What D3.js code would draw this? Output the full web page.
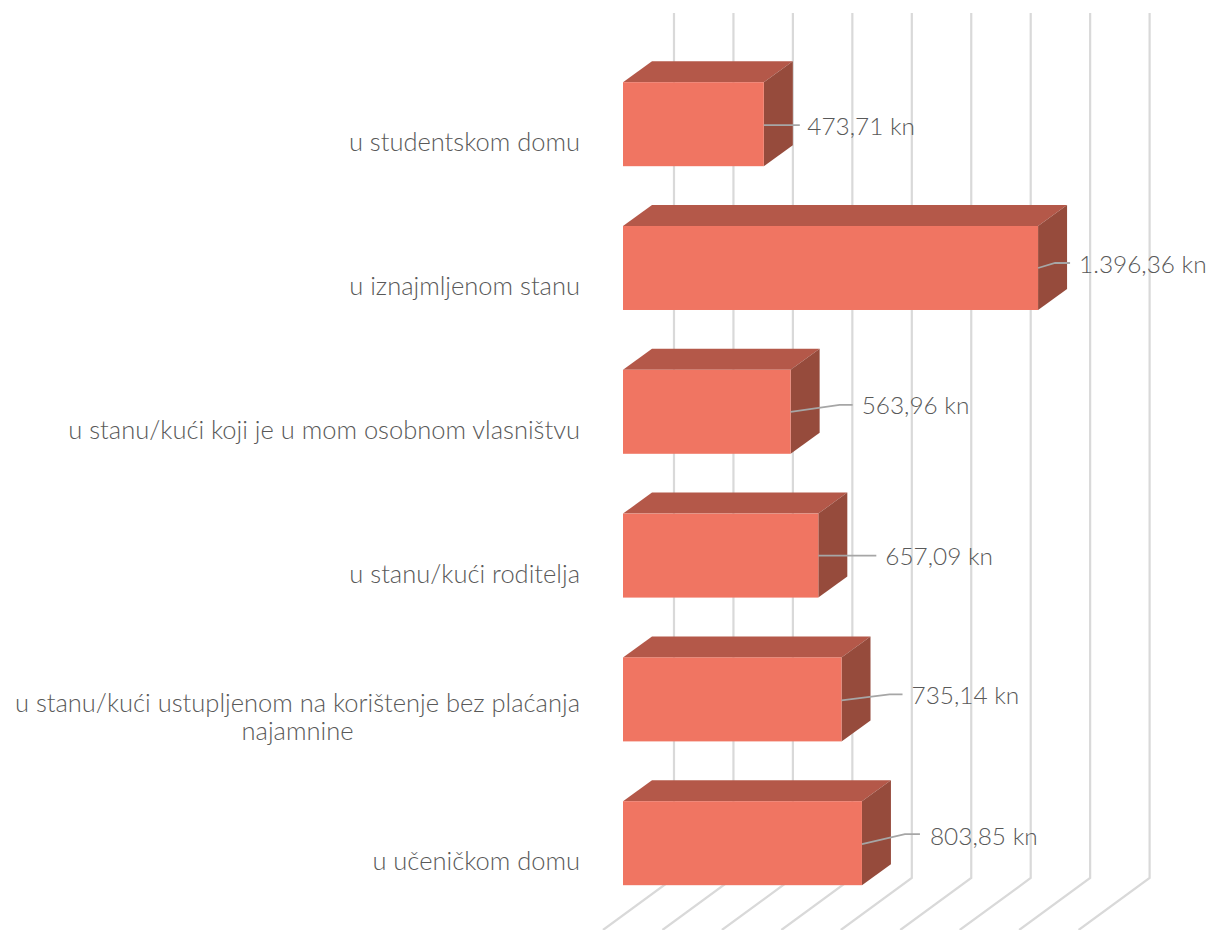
<!DOCTYPE html>
<html><head><meta charset="utf-8">
<script src="https://cdn.jsdelivr.net/npm/d3@7"></script>
<style>html,body{margin:0;background:#fff}svg{display:block}text{font-family:Lato,sans-serif;font-weight:300;fill:#595959}</style>
</head><body><svg id="c" width="1207" height="930"></svg>
<script>
const categories = ["u studentskom domu","u iznajmljenom stanu","u stanu/kući koji je u mom osobnom vlasništvu","u stanu/kući roditelja","u stanu/kući ustupljenom na korištenje bez plaćanja najamnine","u učeničkom domu"];
const values = [473.71,1396.36,563.96,657.09,735.14,803.85];
const valueLabels = ["473,71 kn","1.396,36 kn","563,96 kn","657,09 kn","735,14 kn","803,85 kn"];
const gridTicks = d3.range(0,1601,200);

// layout (not data)
const originX=623, gridX=674, gridTop=13, gridBottom=878;
const depthX=29, depthY=21, floorX=71, floorY=52;
const labelLayout = [ // leader elbow and label offset from the bar's right edge
 {y0:19,mx:24, my:19, ex:36, ey:19, lx:43.5, ly:20},
 {y0:18,mx:17, my:13, ex:32, ey:13, lx:41, ly:14},
 {y0:18,mx:49, my:11, ex:62, ey:11, lx:71, ly:12},
 {y0:18,mx:40, my:18, ex:58, ey:18, lx:67, ly:19},
 {y0:19,mx:48, my:13, ex:61, ey:13, lx:70, ly:14},
 {y0:19,mx:43, my:9, ex:58, ey:9, lx:68, ly:11}
];

const svg=d3.select("#c");
const x=d3.scaleLinear().domain([0,1600]).range([0,475.6]);
const y=d3.scaleBand().domain(categories).range([52.3,915.1]).paddingInner(.416).paddingOuter(.208);
const line=d3.line();

svg.append("g").selectAll("path").data(gridTicks).join("path")
 .attr("fill","none").attr("stroke","#D9D9D9").attr("stroke-width",2.2)
 .attr("d",t=>{const gx=gridX+x(t);return line([[gx,gridTop],[gx,gridBottom],[gx-floorX,gridBottom+floorY]]);});

const bars=svg.append("g").selectAll("g").data(categories.map((c,i)=>({c,v:values[i],l:valueLabels[i],o:labelLayout[i]}))).join("g");
const barTop=d=>y(d.c), bw=y.bandwidth(), right=d=>originX+x(d.v);
bars.append("path").attr("fill","#B45849")
 .attr("d",d=>line([[originX,barTop(d)],[right(d),barTop(d)],[right(d)+depthX,barTop(d)-depthY],[originX+depthX,barTop(d)-depthY]])+"Z");
bars.append("path").attr("fill","#964B3C")
 .attr("d",d=>line([[right(d),barTop(d)],[right(d)+depthX,barTop(d)-depthY],[right(d)+depthX,barTop(d)+bw-depthY],[right(d),barTop(d)+bw]])+"Z");
bars.append("rect").attr("fill","#F07562").attr("x",originX).attr("y",barTop).attr("width",d=>x(d.v)).attr("height",bw);

bars.append("path").attr("fill","none").attr("stroke","#A6A6A6").attr("stroke-width",1.8)
 .attr("d",d=>{const r=right(d),t=barTop(d),o=d.o;return line([[r,t+24+o.y0],[r+o.mx,t+24+o.my],[r+o.ex,t+24+o.ey]]);});
bars.append("text").text(d=>d.l).attr("x",d=>right(d)+d.o.lx).attr("y",d=>barTop(d)+24+d.o.ly).attr("dy",".35em")
 .attr("font-size",24.4);

const axis=svg.append("g").attr("transform",`translate(580,19)`)
 .call(d3.axisLeft(y).tickSize(0).tickPadding(0));
axis.select(".domain").remove();
axis.selectAll("text").attr("font-size",25.5).attr("fill",null).each(function(c){
  const t=d3.select(this);
  if(this.getComputedTextLength()<=570) return;
  const words=c.split(" "), last=words.pop();
  t.text(words.join(" "));
  const w=this.getComputedTextLength();
  const base=-6;
  t.attr("dy",null).text(null);
  t.append("tspan").attr("x",0).attr("y",base).text(words.join(" "));
  t.append("tspan").attr("x",-w/2).attr("y",base+28).attr("text-anchor","middle").text(last);
});
</script></body></html>
